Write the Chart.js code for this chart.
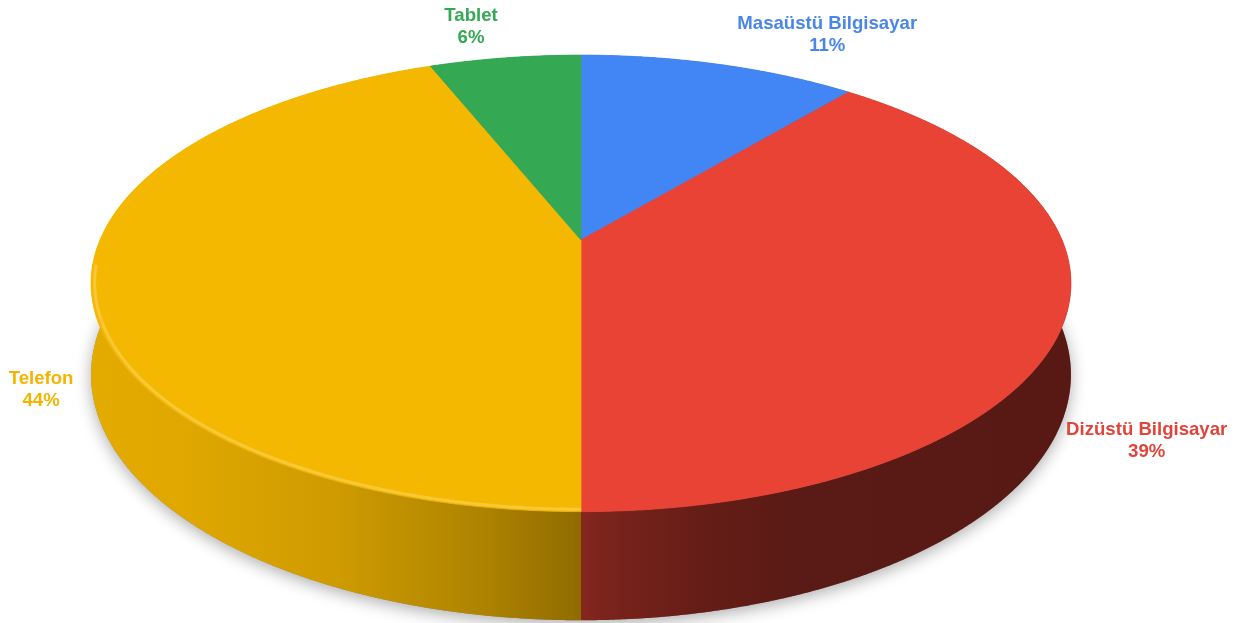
<!DOCTYPE html>
<html>
<head>
<meta charset="utf-8">
<script src="https://cdn.jsdelivr.net/npm/chart.js@4.4.1/dist/chart.umd.min.js"></script>
<style>
  html, body { margin: 0; padding: 0; background: #ffffff; }
  #wrap { width: 1257px; height: 623px; }
</style>
</head>
<body>
<div id="wrap"><canvas id="chart" width="1257" height="623"></canvas></div>
<script>
// Device share data
const categories = ['Masaüstü Bilgisayar', 'Dizüstü Bilgisayar', 'Telefon', 'Tablet'];
const shares = [11, 39, 44, 6];
const sliceColors = ['#4285F4', '#E84335', '#F5B800', '#34A853'];
const textColors = ['#4A86E8', '#E0443A', '#F4B400', '#34A853'];

// Label offsets from the rim point at each slice's middle angle (px)
const labelOffsets = [[108, -35], [82, 115], [-50, 101], [-34, -37]];

// Perspective view of the pie disc
const view = { cx: 581, cy: 240, rx: 481, ry: 220, tilt: 0.19, depth: 88 };

function project(angle, h, r = 1) {
    const u = Math.cos(angle) * r;
    const v = Math.sin(angle) * r;
    const w = 1 - view.tilt * v;
    return [view.cx + view.rx * u / w, view.cy + (view.ry * v + view.depth * h) / w];
}

function rimPoints(a0, a1, h, r = 1) {
    const pts = [];
    const steps = Math.max(2, Math.ceil(Math.abs(a1 - a0) / 0.005));
    for (let i = 0; i <= steps; i++) {
        pts.push(project(a0 + (a1 - a0) * i / steps, h, r));
    }
    return pts;
}

function hexToRgb(hex) {
    const n = parseInt(hex.slice(1), 16);
    return [(n >> 16) & 255, (n >> 8) & 255, n & 255];
}

function shade(hex, f) {
    const [r, g, b] = hexToRgb(hex);
    return `rgb(${Math.round(r * f)}, ${Math.round(g * f)}, ${Math.round(b * f)})`;
}

function tint(hex, t) {
    const [r, g, b] = hexToRgb(hex);
    const m = c => Math.round(c + (255 - c) * t);
    return `rgb(${m(r)}, ${m(g)}, ${m(b)})`;
}

// brightness of the side wall across the width of the disc
const wallStops = [[0, 0.93], [0.1, 0.91], [0.25, 0.84], [0.4, 0.71], [0.49, 0.6],
                   [0.52, 0.53], [0.62, 0.44], [0.72, 0.39], [1, 0.38]];

const pie3d = {
    id: 'pie3d',
    beforeDatasetsDraw(chart) {
        const ctx = chart.ctx;
        const arcs = chart.getDatasetMeta(0).data;
        const colors = chart.data.datasets[0].backgroundColor;
        const left = view.cx - view.rx * 1.02;
        const right = view.cx + view.rx * 1.02;

        ctx.save();

        // soft shadow under the disc
        const base = rimPoints(0, Math.PI * 2, 1);
        ctx.beginPath();
        base.forEach(([x, y], i) => i ? ctx.lineTo(x, y) : ctx.moveTo(x, y));
        ctx.closePath();
        ctx.shadowColor = 'rgba(0, 0, 0, 0.32)';
        ctx.shadowBlur = 16;
        ctx.shadowOffsetY = 4;
        ctx.fillStyle = '#888';
        ctx.fill();
        ctx.shadowColor = 'transparent';

        // side walls
        arcs.forEach((arc, i) => {
            const { startAngle, endAngle } = arc.getProps(['startAngle', 'endAngle'], true);
            const top = rimPoints(startAngle, endAngle, 0);
            const bottom = rimPoints(startAngle, endAngle, 1).reverse();
            const grad = ctx.createLinearGradient(left, 0, right, 0);
            wallStops.forEach(([t, f]) => grad.addColorStop(t, shade(colors[i], f)));
            ctx.beginPath();
            top.concat(bottom).forEach(([x, y], j) => j ? ctx.lineTo(x, y) : ctx.moveTo(x, y));
            ctx.closePath();
            ctx.fillStyle = grad;
            ctx.fill();
        });

        // top faces
        arcs.forEach((arc, i) => {
            const { startAngle, endAngle } = arc.getProps(['startAngle', 'endAngle'], true);
            const pts = rimPoints(startAngle, endAngle, 0);
            ctx.beginPath();
            ctx.moveTo(view.cx, view.cy);
            pts.forEach(([x, y]) => ctx.lineTo(x, y));
            ctx.closePath();
            ctx.fillStyle = colors[i];
            ctx.fill();
            ctx.strokeStyle = colors[i];
            ctx.lineWidth = 0.8;
            ctx.stroke();
        });

        // bevel highlight along the front rim
        const frontA = Math.asin(view.tilt) - 0.08;
        const frontB = Math.PI - Math.asin(view.tilt) + 0.08;
        arcs.forEach((arc, i) => {
            let { startAngle, endAngle } = arc.getProps(['startAngle', 'endAngle'], true);
            // bring angles into [0, 2PI)
            const twoPi = Math.PI * 2;
            while (startAngle < 0) { startAngle += twoPi; endAngle += twoPi; }
            const a0 = Math.max(startAngle, frontA);
            const a1 = Math.min(endAngle, frontB);
            if (a1 <= a0) return;
            ctx.beginPath();
            rimPoints(a0, a1, 0, 0.993).forEach(([x, y], j) => j ? ctx.lineTo(x, y) : ctx.moveTo(x, y));
            ctx.strokeStyle = tint(colors[i], 0.22);
            ctx.lineWidth = 3;
            ctx.lineCap = 'butt';
            ctx.stroke();
        });

        ctx.restore();
        return false;
    }
};

const sliceLabels = {
    id: 'sliceLabels',
    afterDraw(chart) {
        const ctx = chart.ctx;
        const arcs = chart.getDatasetMeta(0).data;
        const values = chart.data.datasets[0].data;
        const total = values.reduce((a, b) => a + b, 0);
        ctx.save();
        ctx.font = 'bold 18.6px "Liberation Sans", Arial, sans-serif';
        ctx.textAlign = 'center';
        ctx.textBaseline = 'alphabetic';
        arcs.forEach((arc, i) => {
            const { startAngle, endAngle } = arc.getProps(['startAngle', 'endAngle'], true);
            const [x, y] = project((startAngle + endAngle) / 2, 0);
            const lx = x + labelOffsets[i][0];
            const ly = y + labelOffsets[i][1];
            ctx.fillStyle = textColors[i];
            ctx.fillText(chart.data.labels[i], lx, ly);
            ctx.fillText(Math.round(values[i] / total * 100) + '%', lx, ly + 22);
        });
        ctx.restore();
    }
};

new Chart(document.getElementById('chart'), {
    type: 'pie',
    data: {
        labels: categories,
        datasets: [{
            data: shares,
            backgroundColor: sliceColors,
            borderWidth: 0
        }]
    },
    options: {
        responsive: false,
        animation: false,
        plugins: {
            legend: { display: false },
            tooltip: { enabled: false }
        }
    },
    plugins: [pie3d, sliceLabels]
});
</script>
</body>
</html>
